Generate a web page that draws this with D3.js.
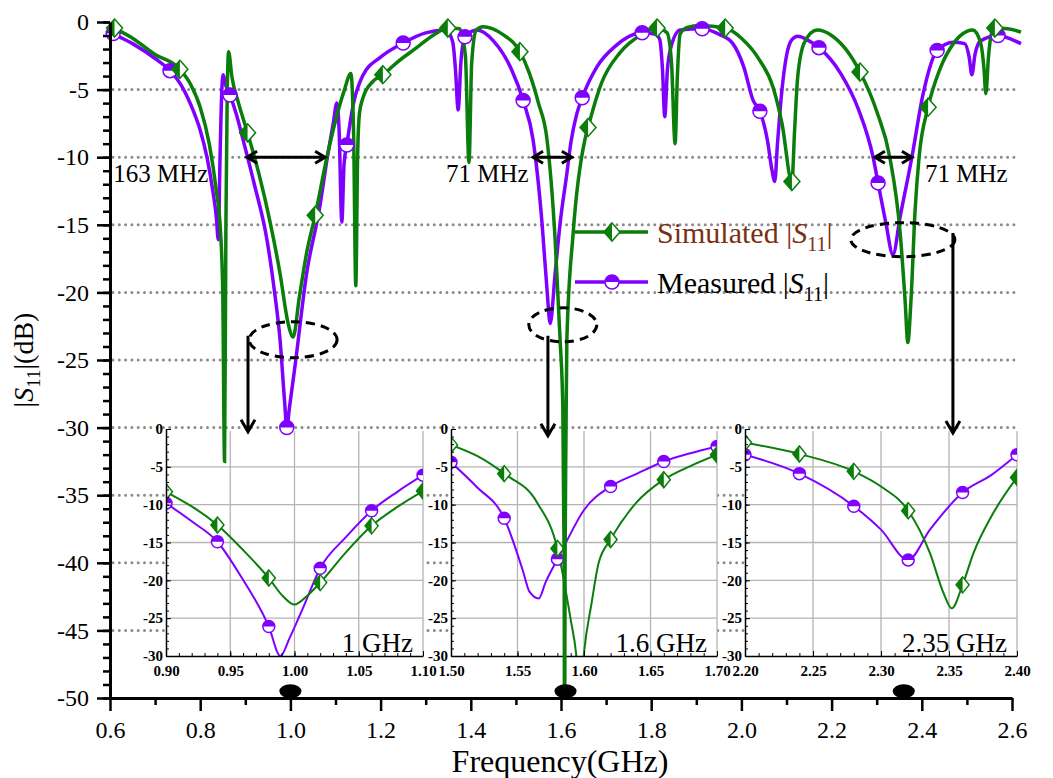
<!DOCTYPE html>
<html>
<head>
<meta charset="utf-8">
<script src="https://cdn.jsdelivr.net/npm/d3@7"></script>
<style>
body { margin: 0; background: #fff; }
svg { display: block; font-family: "Liberation Serif", "Times New Roman", serif; }
</style>
</head>
<body>
<svg id="chart" width="1053" height="778"></svg>
<script>
// |S11| in dB against frequency in GHz
var simulated = [[0.600,-0.25],[0.610,-0.45],[0.650,-1.2],[0.700,-2.4],[0.755,-3.5],[0.780,-4.7],[0.800,-6.3],[0.820,-9.0],[0.835,-12.3],[0.845,-15.5],[0.850,-20],[0.854,-32.5],[0.857,-15],[0.860,-5],[0.863,-2.2],[0.870,-4.0],[0.885,-6.0],[0.905,-8.2],[0.930,-11.2],[0.955,-14.8],[0.977,-18.6],[0.995,-22.3],[1.006,-23.3],[1.020,-20.3],[1.037,-16.9],[1.055,-14.3],[1.081,-10.0],[1.100,-7.3],[1.120,-5.0],[1.134,-3.8],[1.140,-8],[1.145,-19.5],[1.149,-10],[1.153,-6.8],[1.161,-5.6],[1.183,-4.4],[1.205,-3.9],[1.236,-3.0],[1.280,-1.9],[1.320,-0.9],[1.349,-0.45],[1.375,-0.5],[1.388,-2.5],[1.396,-10.4],[1.402,-3],[1.412,-0.6],[1.427,-0.35],[1.470,-0.9],[1.509,-2.2],[1.530,-3.8],[1.550,-6.0],[1.569,-8.7],[1.587,-16.1],[1.598,-23.5],[1.604,-28.5],[1.607,-40],[1.608,-55],[1.609,-40],[1.611,-30.7],[1.613,-23.5],[1.627,-15.6],[1.653,-8.7],[1.660,-7.8],[1.690,-4.5],[1.730,-2.3],[1.780,-0.9],[1.813,-0.45],[1.835,-0.8],[1.845,-3],[1.853,-9.0],[1.858,-4],[1.864,-0.9],[1.880,-0.4],[1.908,-0.25],[1.964,-0.45],[2.000,-1.2],[2.040,-2.8],[2.070,-4.8],[2.090,-7.5],[2.112,-11.8],[2.118,-8],[2.125,-4],[2.140,-1.5],[2.168,-0.6],[2.200,-1.0],[2.263,-3.7],[2.300,-6.6],[2.329,-10],[2.352,-15.6],[2.363,-20.6],[2.369,-23.7],[2.376,-20.6],[2.385,-14],[2.394,-10],[2.414,-6.3],[2.440,-3.5],[2.470,-1.6],[2.500,-0.7],[2.513,-0.6],[2.530,-1.5],[2.538,-3.5],[2.542,-5.3],[2.548,-2.5],[2.555,-0.8],[2.562,-0.45],[2.590,-0.5],[2.620,-0.75]];
var measured = [[0.600,-0.7],[0.607,-0.85],[0.650,-1.6],[0.700,-2.7],[0.733,-3.6],[0.760,-4.8],[0.785,-6.6],[0.800,-8.0],[0.815,-10.0],[0.828,-12.5],[0.836,-14.5],[0.840,-16.1],[0.844,-10],[0.848,-5],[0.851,-3.9],[0.856,-4.6],[0.866,-5.4],[0.880,-6.8],[0.895,-8.7],[0.920,-12],[0.948,-16.1],[0.965,-20],[0.977,-23.5],[0.987,-28],[0.992,-30],[0.998,-28.5],[1.010,-25.5],[1.036,-18.6],[1.065,-13.7],[1.081,-10.2],[1.095,-7.5],[1.103,-6.0],[1.108,-8],[1.114,-14.8],[1.119,-10.5],[1.125,-9.1],[1.140,-6.0],[1.160,-4.0],[1.200,-2.6],[1.250,-1.55],[1.300,-0.8],[1.345,-0.6],[1.360,-1.5],[1.366,-3.5],[1.372,-6.5],[1.378,-3],[1.387,-1.1],[1.414,-0.6],[1.450,-1.4],[1.490,-3.5],[1.516,-5.8],[1.538,-8.7],[1.558,-14.9],[1.569,-19.8],[1.576,-22.3],[1.587,-18.6],[1.598,-14.9],[1.613,-11.2],[1.622,-8.9],[1.635,-6.8],[1.647,-5.6],[1.680,-3.3],[1.720,-1.8],[1.780,-0.8],[1.810,-0.9],[1.819,-1.3],[1.825,-3.5],[1.830,-7.0],[1.836,-3.5],[1.842,-2.1],[1.864,-0.6],[1.913,-0.5],[1.950,-0.9],[1.981,-1.6],[2.005,-3.3],[2.026,-5.8],[2.041,-6.6],[2.058,-8.8],[2.068,-11],[2.074,-11.8],[2.080,-9],[2.090,-5],[2.100,-2.5],[2.112,-1.3],[2.125,-1.05],[2.145,-1.3],[2.172,-1.9],[2.220,-3.8],[2.260,-6.5],[2.292,-10],[2.303,-11.9],[2.320,-14.8],[2.336,-17.2],[2.352,-14.4],[2.378,-10],[2.403,-5.3],[2.434,-2.1],[2.470,-1.5],[2.495,-1.6],[2.505,-2.6],[2.511,-3.9],[2.518,-2.4],[2.530,-1.4],[2.569,-1.0],[2.600,-1.3],[2.620,-1.6]];
var simMarkF = [0.610,0.755,0.905,1.055,1.205,1.349,1.509,1.660,1.813,1.964,2.112,2.263,2.414,2.562];
var meaMarkF = [0.607,0.733,0.866,0.992,1.125,1.250,1.387,1.516,1.647,1.780,1.913,2.041,2.172,2.303,2.434,2.569];

var xTicks = [0.6,0.8,1.0,1.2,1.4,1.6,1.8,2.0,2.2,2.4,2.6];
var xMinor = [0.7,0.9,1.1,1.3,1.5,1.7,1.9,2.1,2.3,2.5];
var yTicks = [0,-5,-10,-15,-20,-25,-30,-35,-40,-45,-50];
var gridDb = [-5,-10,-15,-20,-25,-30,-35,-40,-45];

// zoomed insets
var insetNames = ["1 GHz","1.6 GHz","2.35 GHz"];
var insetRanges = [[0.90,1.10],[1.50,1.70],[2.20,2.40]];
var insetSim = [
  [[0.90,-8.3],[0.94,-12.7],[0.96,-16.0],[0.98,-19.7],[0.991,-22.1],[1.00,-23.2],[1.0095,-22.1],[1.02,-20.3],[1.04,-16.3],[1.06,-12.8],[1.08,-10.3],[1.10,-8.2]],
  [[1.50,-2.1],[1.52,-3.6],[1.54,-5.9],[1.565,-9.8],[1.58,-15.8],[1.59,-25.2],[1.594,-29.6],[1.597,-36],[1.600,-29.6],[1.6057,-23],[1.611,-17.7],[1.62,-14.6],[1.639,-9.8],[1.66,-6.7],[1.68,-4.9],[1.70,-3.4]],
  [[2.20,-1.8],[2.24,-3.3],[2.28,-5.6],[2.30,-7.6],[2.32,-10.8],[2.336,-16.4],[2.346,-21.7],[2.352,-23.7],[2.36,-20.6],[2.368,-16.4],[2.381,-11.6],[2.40,-6.4]]
];
var insetMea = [
  [[0.90,-9.8],[0.92,-12.2],[0.94,-14.9],[0.958,-19.4],[0.98,-26.1],[0.989,-30],[0.9965,-27.5],[1.007,-23.5],[1.02,-18.4],[1.04,-14.3],[1.06,-10.8],[1.08,-8.3],[1.10,-6.1]],
  [[1.50,-4.4],[1.519,-7.6],[1.54,-11.8],[1.554,-18.7],[1.559,-21.5],[1.566,-22.4],[1.571,-20.3],[1.58,-17.2],[1.585,-15.5],[1.60,-10.7],[1.62,-7.6],[1.64,-5.9],[1.66,-4.3],[1.68,-3.2],[1.70,-2.3]],
  [[2.20,-3.4],[2.24,-5.9],[2.28,-10.2],[2.30,-13.3],[2.32,-17.3],[2.336,-13.3],[2.36,-8.4],[2.381,-6.1],[2.40,-3.4]]
];
var insetMarkF = [[0.90,0.94,0.98,1.02,1.06,1.10],[1.50,1.54,1.58,1.62,1.66,1.70],[2.20,2.24,2.28,2.32,2.36,2.40]];
var insetYTicks = [0,-5,-10,-15,-20,-25,-30];

// annotations: -10 dB bandwidth arrows, circled dips, band dots
var bwArrows = [[0.904,1.077],[1.538,1.624],[2.296,2.378]];
var bwLabels = [["163 MHz",0.607],["71 MHz",1.345],["71 MHz",2.407]];
var dipRings = [[1.006,-23.5,44,18],[1.604,-22.4,34,17],[2.358,-16.1,52,17]];
var dropArrows = [[0.906,-23.2,-30.3],[1.571,-23.2,-30.6],[2.469,-15.6,-30.4]];
var bandDots = [1.0,1.61,2.36];

var GREEN = "#0a7d0a", PURPLE = "#8000ff";
var svg = d3.select("#chart");
var x = d3.scaleLinear().domain([0.6, 2.6]).range([110, 1012]);
var y = d3.scaleLinear().domain([0, -50]).range([22, 698]);

function pick(data, freqs) {
  return data.filter(function(p) {
    return freqs.some(function(f) { return Math.abs(f - p[0]) < 1e-6; });
  });
}
function diamond(g, w, h) {
  g.append("path").attr("d", "M0," + (-h) + "L" + w + ",0L0," + h + "L" + (-w) + ",0Z")
    .attr("fill", "#fff").attr("stroke", GREEN).attr("stroke-width", 1.5);
  g.append("path").attr("d", "M0," + (-h) + "L0," + h + "L" + (-w) + ",0Z").attr("fill", GREEN);
}
function halfCircle(g, r) {
  g.append("circle").attr("r", r).attr("fill", "#fff").attr("stroke", PURPLE).attr("stroke-width", 1.5);
  g.append("path").attr("d", "M" + (-r) + ",0A" + r + "," + r + " 0 0 1 " + r + ",0Z").attr("fill", PURPLE);
}

// dotted main grid
svg.append("g").selectAll("line").data(gridDb).enter().append("line")
  .attr("x1", x(0.6) + 3).attr("x2", 1016)
  .attr("y1", function(d) { return y(d); }).attr("y2", function(d) { return y(d); })
  .attr("stroke", "#8a8a8a").attr("stroke-width", 3)
  .attr("stroke-linecap", "round").attr("stroke-dasharray", "0 6.3");

// insets
var insetBox = [[166,423],[451,717],[745,1017]];
var iTop = 429, iBottom = 656;
insetRanges.forEach(function(rng, i) {
  var xi = d3.scaleLinear().domain(rng).range(insetBox[i]);
  var yi = d3.scaleLinear().domain([0, -30]).range([iTop, iBottom]);
  var g = svg.append("g");
  var l = insetBox[i][0], r = insetBox[i][1];
  g.append("rect").attr("x", l).attr("y", iTop + 2).attr("width", r - l).attr("height", iBottom - iTop - 2).attr("fill", "#fff");
  var xt = d3.range(0, 5).map(function(k) { return rng[0] + 0.05 * k; });
  g.append("g").selectAll("line").data(xt.slice(1)).enter().append("line")
    .attr("x1", function(d) { return xi(d); }).attr("x2", function(d) { return xi(d); })
    .attr("y1", iTop + 2).attr("y2", iBottom).attr("stroke", "#b4b4b4").attr("stroke-width", 1.3);
  g.append("g").selectAll("line").data([-5,-10,-15,-20,-25]).enter().append("line")
    .attr("x1", l).attr("x2", r).attr("y1", function(d) { return yi(d); }).attr("y2", function(d) { return yi(d); })
    .attr("stroke", "#b4b4b4").attr("stroke-width", 1.3);

  var clipId = "inset" + i;
  svg.append("clipPath").attr("id", clipId).append("rect")
    .attr("x", l).attr("y", iTop).attr("width", r - l).attr("height", iBottom - iTop);
  var body = g.append("g").attr("clip-path", "url(#" + clipId + ")");
  var line = d3.line().x(function(d) { return xi(d[0]); }).y(function(d) { return yi(d[1]); }).curve(d3.curveMonotoneX);
  body.append("path").attr("d", line(insetMea[i])).attr("fill", "none").attr("stroke", PURPLE).attr("stroke-width", 2);
  body.append("path").attr("d", line(insetSim[i])).attr("fill", "none").attr("stroke", GREEN).attr("stroke-width", 2);
  pick(insetMea[i], insetMarkF[i]).forEach(function(p) {
    halfCircle(body.append("g").attr("transform", "translate(" + xi(p[0]) + "," + yi(p[1]) + ")"), 6);
  });
  pick(insetSim[i], insetMarkF[i]).forEach(function(p) {
    diamond(body.append("g").attr("transform", "translate(" + xi(p[0]) + "," + yi(p[1]) + ")"), 6.5, 8);
  });

  // inset axes
  var ay = g.append("g").attr("transform", "translate(" + l + ",0)")
    .call(d3.axisLeft(yi).tickValues(insetYTicks).tickSize(-5).tickSizeOuter(0).tickPadding(3)
      .tickFormat(function(d) { return String(d); }));
  g.append("g").attr("transform", "translate(" + l + ",0)")
    .call(d3.axisLeft(yi).tickValues(d3.range(0, -31, -1)).tickSize(-3).tickFormat(""))
    .select(".domain").remove();
  var ax = g.append("g").attr("transform", "translate(0," + iBottom + ")")
    .call(d3.axisBottom(xi).tickValues(xt).tickSize(-5).tickSizeOuter(0).tickPadding(9).tickFormat(d3.format(".2f")));
  g.append("g").attr("transform", "translate(0," + iBottom + ")")
    .call(d3.axisBottom(xi).tickValues(d3.range(0, 21).map(function(k) { return rng[0] + 0.01 * k; })).tickSize(-3).tickFormat(""))
    .select(".domain").remove();
  [ay, ax].forEach(function(a) {
    a.selectAll("text").attr("font-family", "Liberation Serif, serif").attr("font-size", 15).attr("font-weight", "bold");
    a.select(".domain").attr("stroke-width", 1.5);
  });
  g.append("text").attr("x", r - 10).attr("y", iBottom - 4).attr("text-anchor", "end")
    .attr("font-size", 27).text(insetNames[i]);
});

// main curves
svg.append("clipPath").attr("id", "mainClip").append("rect")
  .attr("x", 100).attr("y", 0).attr("width", 930).attr("height", y(-50));
var mainLine = d3.line().x(function(d) { return x(d[0]); }).y(function(d) { return y(d[1]); }).curve(d3.curveMonotoneX);
var curves = svg.append("g").attr("clip-path", "url(#mainClip)");
curves.append("path").attr("d", mainLine(measured)).attr("fill", "none").attr("stroke", PURPLE).attr("stroke-width", 3.5);
curves.append("path").attr("d", mainLine(simulated)).attr("fill", "none").attr("stroke", GREEN).attr("stroke-width", 3.5);
pick(measured, meaMarkF).forEach(function(p) {
  halfCircle(svg.append("g").attr("transform", "translate(" + x(p[0]) + "," + y(p[1]) + ")"), 7);
});
pick(simulated, simMarkF).forEach(function(p) {
  diamond(svg.append("g").attr("transform", "translate(" + x(p[0]) + "," + y(p[1]) + ")"), 8, 9);
});

// main axes
var yAxis = svg.append("g").attr("class", "main-axis").attr("transform", "translate(" + x(0.6) + ",0)")
  .call(d3.axisLeft(y).tickValues(yTicks).tickSize(13).tickSizeOuter(0).tickPadding(8)
    .tickFormat(function(d) { return String(d); }));
svg.append("g").attr("class", "main-axis").attr("transform", "translate(" + x(0.6) + ",0)")
  .call(d3.axisLeft(y).tickValues(d3.range(0, -51, -1)).tickSize(7).tickFormat(""))
  .select(".domain").remove();
var xAxis = svg.append("g").attr("class", "main-axis").attr("transform", "translate(0," + y(-50) + ")")
  .call(d3.axisBottom(x).tickValues(xTicks).tickSize(13).tickSizeOuter(0).tickPadding(10).tickFormat(d3.format(".1f")));
svg.append("g").attr("class", "main-axis").attr("transform", "translate(0," + y(-50) + ")")
  .call(d3.axisBottom(x).tickValues(xMinor).tickSize(7).tickFormat(""))
  .select(".domain").remove();
svg.selectAll(".main-axis .tick line").attr("stroke-width", 2.5);
svg.selectAll(".main-axis .domain").attr("stroke-width", 3);
[yAxis, xAxis].forEach(function(a) {
  a.selectAll("text").attr("font-family", "Liberation Serif, serif").attr("font-size", 24).attr("fill", "#000");
});

svg.append("text").attr("x", 560).attr("y", 772).attr("text-anchor", "middle").attr("font-size", 32).text("Frequency(GHz)");
var yt = svg.append("text").attr("transform", "translate(33,360) rotate(-90)").attr("text-anchor", "middle").attr("font-size", 28);
yt.append("tspan").text("|");
yt.append("tspan").attr("font-style", "italic").text("S");
yt.append("tspan").attr("font-size", 19).attr("dy", 7).text("11");
yt.append("tspan").attr("dy", -7).text("|(dB)");

// annotations
var ann = svg.append("g").attr("stroke", "#000").attr("stroke-width", 3).attr("fill", "none");
bwArrows.forEach(function(a) {
  var x1 = x(a[0]), x2 = x(a[1]), yy = y(-10);
  ann.append("path").attr("d", "M" + x1 + "," + yy + "H" + x2 +
    "M" + (x1 + 10) + "," + (yy - 6) + "L" + x1 + "," + yy + "L" + (x1 + 10) + "," + (yy + 6) +
    "M" + (x2 - 10) + "," + (yy - 6) + "L" + x2 + "," + yy + "L" + (x2 - 10) + "," + (yy + 6));
});
bwLabels.forEach(function(b) {
  svg.append("text").attr("x", x(b[1])).attr("y", y(-11.85)).attr("font-size", 25).text(b[0]);
});
dipRings.forEach(function(d) {
  ann.append("ellipse").attr("cx", x(d[0])).attr("cy", y(d[1])).attr("rx", d[2]).attr("ry", d[3])
    .attr("stroke-dasharray", "9 6");
});
dropArrows.forEach(function(d) {
  var xx = x(d[0]), y1 = y(d[1]), y2 = y(d[2]);
  ann.append("path").attr("d", "M" + xx + "," + y1 + "V" + y2 +
    "M" + (xx - 7) + "," + (y2 - 12) + "L" + xx + "," + y2 + "L" + (xx + 7) + "," + (y2 - 12));
});
svg.append("g").selectAll("ellipse").data(bandDots).enter().append("ellipse")
  .attr("cx", function(d) { return x(d); }).attr("cy", y(-49.5)).attr("rx", 11).attr("ry", 7).attr("fill", "#000");

// legend
var legend = svg.append("g");
[["Simulated", GREEN, "#7b2f12", 232], ["Measured", PURPLE, "#000", 282]].forEach(function(s, k) {
  legend.append("line").attr("x1", 575).attr("x2", 648).attr("y1", s[3]).attr("y2", s[3])
    .attr("stroke", s[1]).attr("stroke-width", 3.5);
  var m = legend.append("g").attr("transform", "translate(612," + s[3] + ")");
  if (k === 0) diamond(m, 8, 9); else halfCircle(m, 7);
  var t = legend.append("text").attr("x", 657).attr("y", s[3] + 11).attr("font-size", 30).attr("fill", s[2]);
  t.append("tspan").text(s[0] + " |");
  t.append("tspan").attr("font-style", "italic").text("S");
  t.append("tspan").attr("font-size", 20).attr("dy", 8).text("11");
  t.append("tspan").attr("dy", -8).text("|");
});
</script>
</body>
</html>
